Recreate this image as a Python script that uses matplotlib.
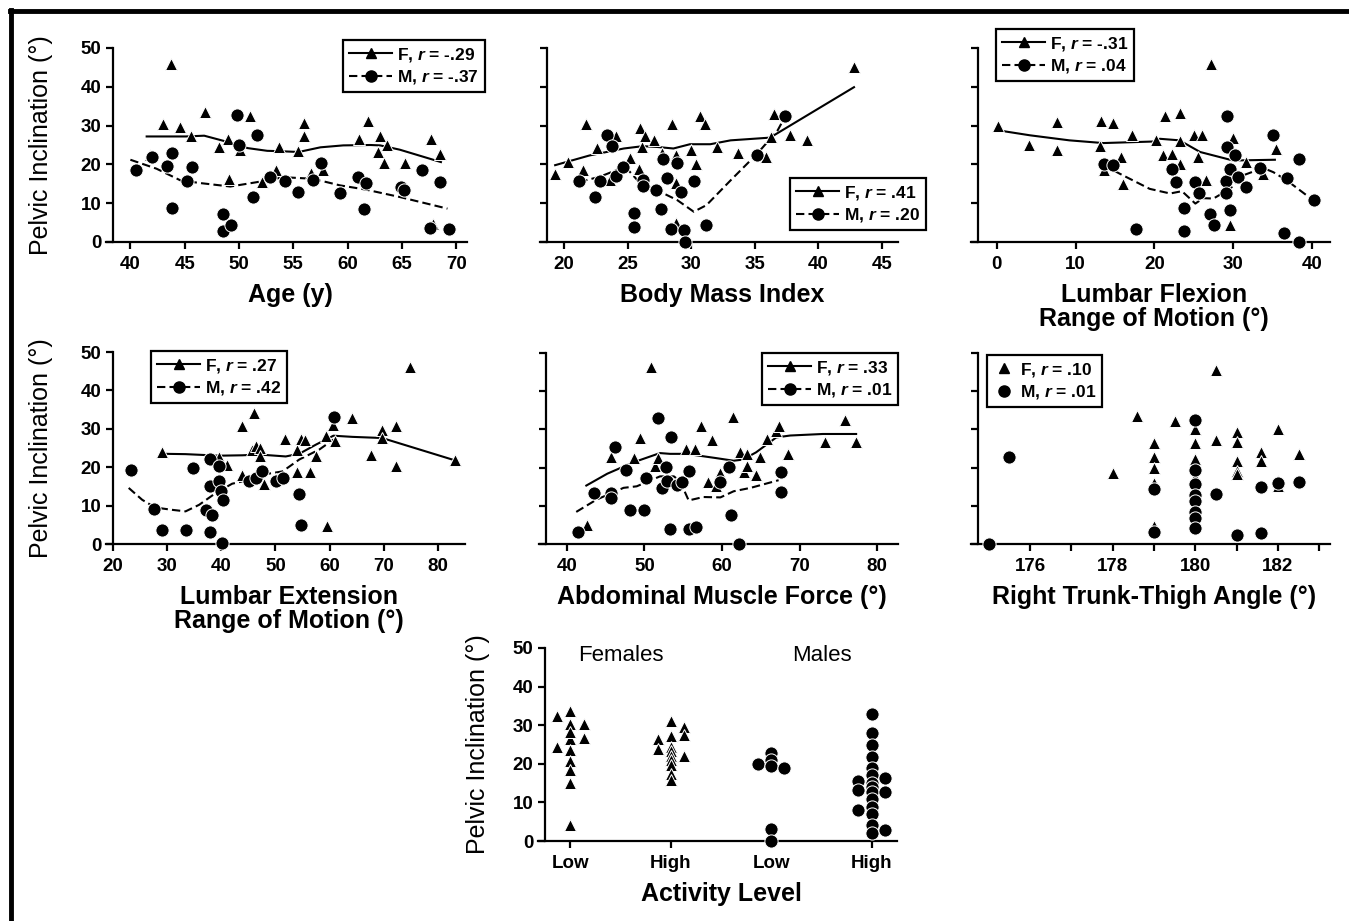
import matplotlib
matplotlib.use("Agg")
import matplotlib.pyplot as plt
from matplotlib.lines import Line2D

plt.rcParams['font.family'] = ['Liberation Sans', 'DejaVu Sans']
plt.rcParams['font.weight'] = 'bold'
plt.rcParams['axes.labelweight'] = 'bold'
plt.rcParams['mathtext.fontset'] = 'custom'
plt.rcParams['mathtext.it'] = 'Liberation Sans:italic:bold'
plt.rcParams['mathtext.rm'] = 'Liberation Sans:bold'

W, H = 1349, 921

# ---- Age ----
age_f_x = [43.7, 43.0, 44.6, 45.6, 46.9, 48.2, 49.0, 49.1, 50.1, 51.0, 41.8, 52.1, 53.4, 53.7, 55.4,
           56.0, 56.0, 56.6, 57.7, 61.1, 61.9, 63.0, 62.8, 63.6, 63.4, 65.3, 67.7, 68.5, 67.9]
age_f_y = [45.9, 30.4, 29.6, 27.4, 33.4, 24.4, 26.6, 16.3, 23.8, 32.6, 22.3, 15.4, 18.6, 24.4, 23.4,
           30.6, 27.4, 17.8, 18.6, 26.6, 31.1, 27.2, 23.2, 24.9, 20.3, 20.3, 26.6, 22.6, 4.7]
age_m_x = [40.5, 42.0, 43.4, 43.8, 43.8, 45.2, 45.7, 48.5, 48.5, 49.3, 49.8, 50.0, 51.3, 51.7, 52.9,
           54.2, 55.4, 56.8, 57.6, 59.3, 61.0, 61.7, 61.5, 64.9, 65.2, 66.9, 67.6, 68.5, 69.3]
age_m_y = [18.6, 22.0, 19.5, 23.0, 8.7, 15.7, 19.3, 7.3, 2.8, 4.5, 32.8, 25.0, 11.6, 27.6, 16.7,
           15.7, 12.9, 16.0, 20.3, 12.7, 16.7, 15.3, 8.4, 14.3, 13.3, 18.6, 3.7, 15.4, 3.3]
age_f_fit_x = [41.5, 45.1, 46.8, 49.6, 50.8, 52.6, 53.8, 55.5, 57.5, 59.6, 62.1, 63.0, 64.8, 68.6]
age_f_fit_y = [27.2, 27.2, 27.4, 25.3, 24.2, 23.5, 23.4, 23.2, 24.4, 24.9, 25.0, 24.9, 23.8, 20.6]
age_m_fit_x = [40.0, 42.4, 44.6, 46.4, 49.2, 51.6, 54.1, 56.8, 59.3, 61.7, 64.8, 69.2]
age_m_fit_y = [21.2, 18.9, 15.9, 15.2, 14.3, 15.4, 16.7, 16.3, 14.6, 13.5, 11.6, 8.6]

# ---- Body mass index ----
bmi_f_x = [42.8, 19.3, 20.3, 21.7, 21.5, 22.6, 24.1, 23.6, 25.2, 26.0, 26.1, 26.4, 25.9, 27.1, 27.7,
           28.5, 28.8, 28.8, 28.8, 30.0, 30.4, 30.7, 31.1, 32.0, 33.7, 35.9, 36.5, 36.3, 37.8, 39.1]
bmi_f_y = [45.2, 17.5, 20.5, 30.3, 18.5, 24.1, 27.2, 15.9, 21.7, 29.4, 24.6, 27.3, 18.8, 26.3, 23.0,
           30.5, 22.5, 15.1, 5.0, 23.6, 20.2, 32.4, 30.5, 24.5, 22.9, 21.9, 33.0, 27.1, 27.7, 26.4]
bmi_m_x = [21.2, 22.4, 22.8, 23.4, 23.8, 24.1, 24.6, 25.5, 25.5, 26.2, 26.2, 27.2, 27.6, 27.8, 28.1,
           28.9, 29.2, 28.4, 29.4, 29.5, 30.2, 31.2, 35.2, 37.4]
bmi_m_y = [15.6, 11.6, 15.8, 27.5, 24.8, 17.0, 19.3, 7.5, 3.8, 15.9, 14.5, 13.4, 8.6, 21.5, 16.5,
           20.4, 12.8, 3.3, 3.1, 0.1, 15.8, 4.4, 22.5, 32.4]
bmi_f_fit_x = [19.3, 22.0, 24.7, 26.2, 27.3, 28.6, 29.9, 31.5, 33.1, 36.2, 42.8]
bmi_f_fit_y = [19.8, 22.3, 24.1, 24.7, 24.5, 24.1, 25.2, 25.2, 26.2, 26.9, 39.9]
bmi_m_fit_x = [21.2, 22.8, 24.1, 24.7, 26.0, 27.4, 28.9, 30.2, 31.2, 33.1, 35.2, 36.8, 37.3]
bmi_m_fit_y = [15.5, 16.8, 18.5, 19.8, 15.1, 13.2, 10.8, 7.8, 9.5, 15.9, 22.8, 28.8, 31.8]

# ---- Lumbar flexion ----
flex_f_x = [0.1, 4.1, 7.6, 7.6, 13.2, 14.7, 13.1, 13.6, 15.8, 16.0, 17.2, 20.2, 21.3, 23.2, 21.1,
            22.2, 23.2, 23.3, 25.0, 26.1, 25.6, 26.6, 27.2, 30.0, 30.0, 29.6, 31.6, 33.8, 35.5]
flex_f_y = [29.9, 24.9, 30.8, 23.6, 31.1, 30.7, 24.7, 18.5, 21.9, 15.0, 27.5, 26.4, 32.6, 33.2, 22.5,
            22.8, 20.2, 26.1, 27.5, 27.5, 21.9, 15.9, 46.0, 26.8, 18.5, 4.5, 20.6, 17.6, 23.9]
flex_m_x = [13.6, 14.8, 17.7, 22.2, 22.7, 23.7, 23.7, 25.2, 25.7, 27.1, 27.6, 29.1, 29.1, 29.6,
            29.2, 29.2, 30.2, 29.6, 30.6, 31.6, 33.4, 35.1, 36.8, 38.4, 36.4, 38.4, 40.3]
flex_m_y = [20.2, 19.8, 3.3, 18.7, 15.5, 8.8, 2.8, 15.5, 12.7, 7.1, 4.3, 15.6, 12.7, 8.2,
            32.6, 24.5, 22.5, 18.7, 16.8, 14.2, 19.1, 27.5, 16.6, 21.5, 2.4, 0.0, 10.7]
flex_f_fit_x = [0.1, 4.2, 9.2, 13.5, 19.9, 20.7, 23.2, 25.8, 30.0, 35.3]
flex_f_fit_y = [28.8, 27.5, 26.2, 25.5, 25.9, 26.6, 26.2, 23.2, 21.0, 21.2]
flex_m_fit_x = [13.5, 15.6, 19.4, 22.0, 23.5, 25.2, 26.2, 27.5, 29.6, 31.3, 33.8, 35.1, 36.8, 40.2]
flex_m_fit_y = [19.9, 17.6, 13.7, 12.5, 13.1, 9.9, 11.3, 11.2, 13.7, 17.2, 19.1, 18.0, 15.9, 10.7]

# ---- Lumbar extension ----
ext_f_x = [29.0, 39.6, 41.1, 43.8, 43.8, 46.0, 45.7, 46.4, 47.2, 47.2, 47.8, 50.1, 51.7, 54.0, 54.0,
           54.8, 55.5, 56.4, 57.5, 59.3, 59.5, 60.7, 61.0, 64.1, 67.7, 69.7, 69.7, 72.2, 72.2, 74.8, 83.1]
ext_f_y = [24.0, 22.6, 20.7, 30.8, 17.9, 34.1, 24.4, 25.6, 25.0, 23.0, 15.5, 16.8, 27.4, 24.6, 18.8,
           27.4, 27.0, 18.7, 22.8, 28.0, 4.8, 31.1, 26.9, 32.8, 23.3, 29.8, 27.6, 30.8, 20.2, 46.1, 22.0]
ext_m_x = [23.3, 27.6, 29.1, 33.4, 34.8, 37.2, 38.2, 38.0, 38.0, 38.0, 39.6, 39.6, 39.9, 40.3, 40.1,
           45.1, 46.4, 47.6, 50.1, 51.4, 54.3, 54.7, 60.9]
ext_m_y = [19.2, 9.2, 3.6, 3.6, 19.8, 8.8, 7.5, 3.1, 15.0, 22.2, 20.2, 16.3, 13.7, 11.5, 0.3,
           16.3, 17.2, 18.9, 16.3, 17.2, 13.1, 5.0, 33.1]
ext_f_fit_x = [28.8, 33.4, 39.6, 43.9, 47.0, 51.9, 54.4, 57.5, 60.7, 64.2, 69.7, 83.1]
ext_f_fit_y = [23.5, 23.4, 23.0, 23.1, 23.3, 22.8, 23.5, 25.9, 28.2, 27.9, 27.6, 21.8]
ext_m_fit_x = [22.9, 25.4, 27.8, 30.9, 33.4, 35.9, 39.0, 42.0, 45.7, 48.2, 51.3, 54.4, 58.1, 60.7]
ext_m_fit_y = [14.6, 11.5, 9.5, 8.9, 8.5, 10.2, 13.3, 15.7, 16.9, 18.2, 18.9, 22.0, 24.6, 27.2]

# ---- Abdominal muscle force ----
abd_f_x = [50.9, 42.6, 45.7, 48.7, 49.4, 51.4, 51.7, 55.4, 56.5, 57.3, 58.7, 58.2, 59.2, 59.7,
           61.4, 62.3, 62.9, 63.2, 63.2, 64.4, 64.9, 65.8, 67.0, 67.3, 68.5, 73.3, 75.8, 77.3]
abd_f_y = [46.3, 5.1, 22.7, 22.5, 27.7, 20.5, 22.5, 24.9, 24.9, 30.8, 27.3, 16.1, 15.3, 18.6,
           33.2, 24.1, 18.8, 23.6, 20.3, 18.0, 22.8, 27.5, 29.7, 31.0, 23.6, 26.7, 32.5, 26.7]
abd_m_x = [41.4, 43.5, 45.7, 45.7, 46.2, 47.6, 48.1, 50.0, 50.2, 51.8, 52.3, 52.8, 52.9, 53.4,
           53.3, 54.2, 54.9, 55.8, 55.8, 56.7, 59.8, 60.9, 61.2, 62.2, 67.6, 67.6]
abd_m_y = [3.1, 13.4, 13.3, 12.0, 25.3, 19.5, 9.0, 8.8, 17.3, 33.0, 14.7, 20.2, 16.4, 28.0,
           3.8, 15.5, 16.1, 19.2, 3.8, 4.5, 16.2, 20.2, 7.5, 0.0, 18.8, 13.6]
abd_f_fit_x = [42.5, 45.2, 48.6, 52.0, 53.3, 55.4, 59.2, 61.5, 62.7, 64.4, 67.0, 68.8, 73.0, 77.3]
abd_f_fit_y = [15.3, 18.4, 21.4, 23.8, 23.6, 23.6, 22.5, 21.8, 22.1, 24.0, 27.9, 28.4, 28.8, 28.8]
abd_m_fit_x = [41.2, 43.8, 47.3, 49.0, 52.0, 53.8, 54.6, 55.7, 57.6, 59.8, 61.5, 63.7, 67.3]
abd_m_fit_y = [8.4, 11.6, 14.7, 15.1, 17.7, 17.7, 16.4, 11.4, 12.3, 12.2, 13.8, 14.7, 16.7]

# ---- Right trunk-thigh angle ----
tt_f_x = [178.0, 178.6, 179.0, 179.0, 179.0, 179.0, 179.0, 179.5, 180.0, 180.0, 180.0, 180.0, 180.5,
          180.5, 181.0, 181.0, 181.0, 181.0, 181.0, 181.6, 181.6, 182.0, 182.0, 182.0, 182.5]
tt_f_y = [18.6, 33.4, 26.4, 22.9, 19.9, 16.0, 4.8, 32.3, 30.1, 26.4, 22.3, 17.6, 45.5,
          27.2, 29.2, 26.6, 21.6, 19.2, 18.3, 24.2, 21.6, 30.1, 16.4, 15.3, 23.6]
tt_m_x = [175.0, 175.5, 179.0, 179.0, 180.0, 180.0, 180.0, 180.0, 180.0, 180.0, 180.0, 180.0,
          180.5, 181.0, 181.6, 181.6, 182.0, 182.5]
tt_m_y = [0.0, 22.9, 14.4, 3.1, 32.5, 19.5, 15.7, 12.7, 11.2, 8.3, 6.7, 4.2,
          13.1, 2.4, 14.8, 2.9, 16.0, 16.3]
tt_ticks = [175, 176, 177, 178, 179, 180, 181, 182, 183]
tt_ticklabels = ['', '176', '', '178', '', '180', '', '182', '']

# ---- Activity level ----
act_labels = ['Low', 'High', 'Low', 'High']
f_low_off = [-0.13, 0, 0, 0.14, -0.13, 0, 0, 0, 0, 0.14, 0, 0, 0]
f_low_y = [32.4, 33.6, 30.4, 30.4, 24.4, 26.5, 23.5, 20.7, 18.3, 26.8, 14.9, 4.1, 28.2]
f_high_off = [-0.13, -0.13, 0, 0, 0, 0, 0, 0, 0, 0, 0, 0.13, 0.13, 0.13]
f_high_y = [26.5, 23.8, 31.1, 27.2, 24.4, 23.2, 22.0, 20.9, 19.6, 17.3, 15.7, 29.5, 27.4, 22.0]
m_low_off = [-0.13, 0, 0, 0, 0.13, 0, 0]
m_low_y = [19.9, 22.9, 21.0, 19.4, 18.8, 3.0, 0.1]
m_high_off = [0, 0, 0, 0, 0, 0, 0, 0, 0, 0, 0, 0, 0, 0, -0.14, -0.14, -0.14, 0.13, 0.13, 0.13]
m_high_y = [32.8, 28.0, 24.8, 21.8, 18.8, 17.0, 15.1, 14.0, 12.7, 10.8, 8.7, 7.0, 4.1, 2.2,
            15.6, 13.2, 8.0, 16.2, 12.6, 2.8]

TRI = dict(marker='^', markersize=8, color='black', markeredgecolor='white', markeredgewidth=0.7,
           linestyle='none', clip_on=False, zorder=3)
CIR = dict(marker='o', markersize=9.5, color='black', markeredgecolor='white', markeredgewidth=0.7,
           linestyle='none', clip_on=False, zorder=3)
DASH = (0, (4, 2))


def rect(left, top, right, bottom):
    return [left / W, 1 - bottom / H, (right - left) / W, (bottom - top) / H]


def style_axes(ax, ylabels=True):
    for s in ['top', 'right']:
        ax.spines[s].set_visible(False)
    for s in ['left', 'bottom']:
        ax.spines[s].set_linewidth(1.6)
    # the x axis line pokes out a little to the left of the y axis
    x0, x1 = ax.get_xlim()
    ax.spines['bottom'].set_bounds(x0 - 0.02 * (x1 - x0), x1)
    ax.set_xlim(x0, x1)
    ax.set_ylim(0, 50)
    ax.set_yticks([0, 10, 20, 30, 40, 50])
    if not ylabels:
        ax.set_yticklabels([])
    ax.tick_params(direction='out', length=5, width=1.6, labelsize=13.5)
    ax.tick_params(axis='x', pad=5)


def ylab(ax, xpos):
    ax.set_ylabel('Pelvic Inclination (°)', fontsize=18, fontweight='normal')
    ax.yaxis.set_label_coords(xpos, 0.5)


def add_legend(fig, ax, fr, mr, left, top, lines=True):
    ls_f = '-' if lines else 'none'
    ls_m = DASH if lines else 'none'
    h1 = Line2D([], [], color='black', lw=1.5, ls=ls_f, marker='^', markersize=7)
    h2 = Line2D([], [], color='black', lw=1.5, ls=ls_m, marker='o', markersize=8)
    leg = ax.legend([h1, h2], ['F, $r$ = ' + fr, 'M, $r$ = ' + mr], loc='upper left',
                    bbox_to_anchor=(left / W, 1 - top / H), bbox_transform=fig.transFigure,
                    borderaxespad=0, fontsize=12.5, handlelength=2.5 if lines else 1.3,
                    handletextpad=0.25, labelspacing=0.25, borderpad=0.35, fancybox=False,
                    framealpha=1, edgecolor='black')
    leg.get_frame().set_linewidth(1.6)


def scatter_panel(fig, r, fx, fy, mx, my, xlim, xticks, xlabel, ffit=None, mfit=None):
    ax = fig.add_axes(r)
    if ffit is not None:
        ax.plot(ffit[0], ffit[1], color='black', lw=1.5, zorder=2)
    if mfit is not None:
        ax.plot(mfit[0], mfit[1], color='black', lw=1.5, ls=DASH, zorder=2)
    ax.plot(fx, fy, **TRI)
    ax.plot(mx, my, **CIR)
    ax.set_xlim(*xlim)
    ax.set_xticks(xticks)
    ax.set_xlabel(xlabel, fontsize=18, labelpad=7, linespacing=1.02)
    return ax


fig = plt.figure(figsize=(W / 100, H / 100), dpi=100)

ax1 = scatter_panel(fig, rect(113, 48, 467, 242), age_f_x, age_f_y, age_m_x, age_m_y,
                    (38.4, 71.0), range(40, 71, 5), 'Age (y)',
                    (age_f_fit_x, age_f_fit_y), (age_m_fit_x, age_m_fit_y))
style_axes(ax1)
ylab(ax1, -0.17)
add_legend(fig, ax1, '-.29', '-.37', 343, 40)

ax2 = scatter_panel(fig, rect(547, 48, 898, 242), bmi_f_x, bmi_f_y, bmi_m_x, bmi_m_y,
                    (18.66, 46.26), range(20, 46, 5), 'Body Mass Index',
                    (bmi_f_fit_x, bmi_f_fit_y), (bmi_m_fit_x, bmi_m_fit_y))
style_axes(ax2, False)
add_legend(fig, ax2, '.41', '.20', 790, 178)

ax3 = scatter_panel(fig, rect(978, 48, 1330, 242), flex_f_x, flex_f_y, flex_m_x, flex_m_y,
                    (-2.4, 42.3), range(0, 41, 10), 'Lumbar Flexion\nRange of Motion (°)',
                    (flex_f_fit_x, flex_f_fit_y), (flex_m_fit_x, flex_m_fit_y))
style_axes(ax3, False)
add_legend(fig, ax3, '-.31', '.04', 996, 29)

ax4 = scatter_panel(fig, rect(113, 352, 465, 544), ext_f_x, ext_f_y, ext_m_x, ext_m_y,
                    (20, 85), range(20, 81, 10), 'Lumbar Extension\nRange of Motion (°)',
                    (ext_f_fit_x, ext_f_fit_y), (ext_m_fit_x, ext_m_fit_y))
style_axes(ax4)
ylab(ax4, -0.17)
add_legend(fig, ax4, '.27', '.42', 151, 351)

ax5 = scatter_panel(fig, rect(546, 353, 898, 544), abd_f_x, abd_f_y, abd_m_x, abd_m_y,
                    (37.3, 82.7), range(40, 81, 10), 'Abdominal Muscle Force (°)',
                    (abd_f_fit_x, abd_f_fit_y), (abd_m_fit_x, abd_m_fit_y))
style_axes(ax5, False)
add_legend(fig, ax5, '.33', '.01', 762, 353)

ax6 = scatter_panel(fig, rect(978, 353, 1330, 544), tt_f_x, tt_f_y, tt_m_x, tt_m_y,
                    (174.74, 183.26), tt_ticks, 'Right Trunk-Thigh Angle (°)')
ax6.set_xticklabels(tt_ticklabels)
style_axes(ax6, False)
add_legend(fig, ax6, '.10', '.01', 987, 355, lines=False)

# activity level panel
ax7 = fig.add_axes(rect(545, 648, 897, 841))
ax7.plot([0 + o for o in f_low_off], f_low_y, **TRI)
ax7.plot([1 + o for o in f_high_off], f_high_y, **TRI)
ax7.plot([2 + o for o in m_low_off], m_low_y, **CIR)
ax7.plot([3 + o for o in m_high_off], m_high_y, **CIR)
ax7.set_xlim(-0.25, 3.25)
ax7.set_xticks(range(len(act_labels)))
ax7.set_xticklabels(act_labels)
ax7.set_xlabel('Activity Level', fontsize=18, labelpad=7)
style_axes(ax7)
ylab(ax7, -0.155)
ax7.text(0.5, 48, 'Females', ha='center', va='center', fontsize=16, fontweight='normal')
ax7.text(2.5, 48, 'Males', ha='center', va='center', fontsize=16, fontweight='normal')

# outer frame (top and left edges)
fig.add_artist(Line2D([10 / W, 1], [1 - 11 / H, 1 - 11 / H], color='black', lw=3.5,
                      transform=fig.transFigure))
fig.add_artist(Line2D([11 / W, 11 / W], [0, 1 - 10 / H], color='black', lw=3.5,
                      transform=fig.transFigure))

fig.savefig('out.png', dpi=100)
